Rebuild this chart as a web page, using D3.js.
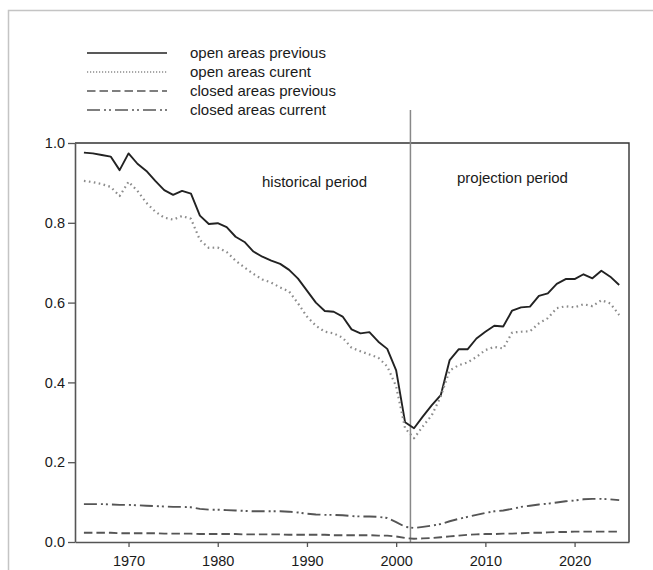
<!DOCTYPE html>
<html>
<head>
<meta charset="utf-8">
<script src="https://cdn.jsdelivr.net/npm/d3@7"></script>
<style>
  html, body { margin: 0; padding: 0; background: #fff; }
  svg { display: block; font-family: "Liberation Sans", Arial, sans-serif; }
</style>
</head>
<body>
<div id="chart"></div>
<script>
// ---------- data ----------
const years = d3.range(1965, 2026);

const openPrevious = [
  0.976, 0.974, 0.970, 0.966, 0.932, 0.974, 0.948, 0.930, 0.905, 0.882,
  0.870, 0.880, 0.873, 0.818, 0.797, 0.799, 0.789, 0.765, 0.752, 0.728,
  0.715, 0.705, 0.697, 0.682, 0.660, 0.630, 0.600, 0.579, 0.577, 0.565,
  0.533, 0.523, 0.526, 0.502, 0.484, 0.430, 0.300, 0.285, 0.315, 0.343,
  0.368, 0.456, 0.483, 0.483, 0.510, 0.527, 0.542, 0.540, 0.580, 0.588,
  0.590, 0.617, 0.623, 0.647, 0.659, 0.659, 0.671, 0.661, 0.680, 0.665,
  0.644
];

const openCurrent = [
  0.905, 0.902, 0.897, 0.890, 0.867, 0.903, 0.880, 0.850, 0.828, 0.813,
  0.808, 0.817, 0.810, 0.757, 0.737, 0.738, 0.727, 0.705, 0.688, 0.672,
  0.658, 0.650, 0.638, 0.628, 0.598, 0.565, 0.542, 0.527, 0.523, 0.512,
  0.487, 0.478, 0.470, 0.462, 0.440, 0.390, 0.285, 0.260, 0.290, 0.318,
  0.365, 0.430, 0.443, 0.450, 0.464, 0.481, 0.489, 0.485, 0.525, 0.527,
  0.528, 0.548, 0.561, 0.586, 0.591, 0.588, 0.596, 0.591, 0.606, 0.598,
  0.569
];

const closedPrevious = [
  0.023, 0.023, 0.023, 0.023, 0.022, 0.022, 0.022, 0.022, 0.022, 0.021,
  0.021, 0.021, 0.021, 0.020, 0.020, 0.020, 0.020, 0.020, 0.019, 0.019,
  0.019, 0.019, 0.019, 0.018, 0.018, 0.018, 0.018, 0.018, 0.017, 0.017,
  0.017, 0.017, 0.017, 0.016, 0.016, 0.014, 0.010, 0.008, 0.009, 0.010,
  0.012, 0.014, 0.016, 0.018, 0.019, 0.020, 0.020, 0.021, 0.021, 0.022,
  0.023, 0.023, 0.024, 0.025, 0.025, 0.026, 0.026, 0.026, 0.026, 0.026,
  0.026
];

const closedCurrent = [
  0.095, 0.095, 0.095, 0.094, 0.093, 0.093, 0.092, 0.091, 0.090, 0.089,
  0.088, 0.088, 0.087, 0.083, 0.081, 0.081, 0.080, 0.079, 0.078, 0.077,
  0.077, 0.077, 0.077, 0.076, 0.074, 0.071, 0.069, 0.068, 0.068, 0.067,
  0.065, 0.064, 0.064, 0.063, 0.060, 0.050, 0.038, 0.035, 0.038, 0.041,
  0.045, 0.052, 0.058, 0.063, 0.068, 0.073, 0.077, 0.079, 0.083, 0.088,
  0.091, 0.094, 0.096, 0.099, 0.102, 0.104, 0.107, 0.108, 0.108, 0.107,
  0.105
];

const seriesNames = ["open areas previous", "open areas curent", "closed areas previous", "closed areas current"];
const xTicks = [1970, 1980, 1990, 2000, 2010, 2020];
const yTicks = [0.0, 0.2, 0.4, 0.6, 0.8, 1.0];
const periodSplit = 2001.6;
const periodLabels = ["historical period", "projection period"];

// ---------- layout ----------
const W = 653, H = 570;
const mLeft = 75, mRight = 629, mTop = 143, mBottom = 542;

const svg = d3.select("#chart").append("svg")
  .attr("width", W).attr("height", H);

// outer light border
svg.append("rect")
  .attr("x", 8.5).attr("y", 10.5)
  .attr("width", 700).attr("height", 700)
  .attr("fill", "none")
  .attr("stroke", "#c4c4c4")
  .attr("stroke-width", 1.5);

const x = d3.scaleLinear().domain([1964, 2026.1]).range([mLeft, mRight]);
const y = d3.scaleLinear().domain([0, 1]).range([mBottom, mTop]);

const styles = [
  { stroke: "#222", width: 1.9, dash: null },
  { stroke: "#8c8c8c", width: 2.2, dash: "1.6,3.4" },
  { stroke: "#555", width: 1.9, dash: "8.5,4" },
  { stroke: "#555", width: 1.9, dash: "13,4,2,3,2,4" }
];
const allSeries = [openPrevious, openCurrent, closedPrevious, closedCurrent];

// frame (top & right)
svg.append("path")
  .attr("d", `M${mLeft},${mTop}H${mRight}V${mBottom}`)
  .attr("fill", "none").attr("stroke", "#333").attr("stroke-width", 1.4);

// vertical period split line
svg.append("line")
  .attr("x1", x(periodSplit)).attr("x2", x(periodSplit))
  .attr("y1", 110).attr("y2", mBottom)
  .attr("stroke", "#888").attr("stroke-width", 1.5);

// lines
const line = d3.line()
  .x((d, i) => x(years[i]))
  .y(d => y(d));

allSeries.forEach((s, k) => {
  svg.append("path")
    .datum(s)
    .attr("d", line)
    .attr("fill", "none")
    .attr("stroke", styles[k].stroke)
    .attr("stroke-width", styles[k].width)
    .attr("stroke-dasharray", styles[k].dash)
    .attr("stroke-linejoin", "round");
});

// axes
const xAxis = d3.axisBottom(x).tickValues(xTicks).tickFormat(d3.format("d"))
  .tickSizeInner(5).tickSizeOuter(0).tickPadding(9);
const gx = svg.append("g").attr("transform", `translate(0,${mBottom})`).call(xAxis);

const yAxis = d3.axisLeft(y).tickValues(yTicks).tickFormat(d3.format(".1f"))
  .tickSizeInner(7).tickSizeOuter(0).tickPadding(3);
const gy = svg.append("g").attr("transform", `translate(${mLeft},0)`).call(yAxis);

[gx, gy].forEach(g => {
  g.select(".domain").attr("stroke", "#555").attr("stroke-width", 1.6);
  g.selectAll(".tick line").attr("stroke", "#555").attr("stroke-width", 1.3);
  g.selectAll(".tick text")
    .attr("fill", "#1a1a1a")
    .style("font-size", "14.5px")
    .style("font-family", "'Liberation Sans', Arial, sans-serif");
});

// period labels
svg.append("text")
  .attr("x", 262).attr("y", 187)
  .attr("fill", "#1a1a1a").style("font-size", "15px")
  .text(periodLabels[0]);
svg.append("text")
  .attr("x", 457).attr("y", 183)
  .attr("fill", "#1a1a1a").style("font-size", "15px")
  .text(periodLabels[1]);

// legend
const legendRows = [53, 72, 91, 110];
seriesNames.forEach((name, k) => {
  const yy = legendRows[k];
  svg.append("line")
    .attr("x1", 87).attr("x2", 167)
    .attr("y1", yy).attr("y2", yy)
    .attr("stroke", styles[k].stroke)
    .attr("stroke-width", k === 1 ? 1.6 : 1.4)
    .attr("stroke-dasharray", k === 1 ? "1.2,1.8" : styles[k].dash);
  svg.append("text")
    .attr("x", 190).attr("y", yy + 5)
    .attr("fill", "#1a1a1a").style("font-size", "15px")
    .text(name);
});
</script>
</body>
</html>
